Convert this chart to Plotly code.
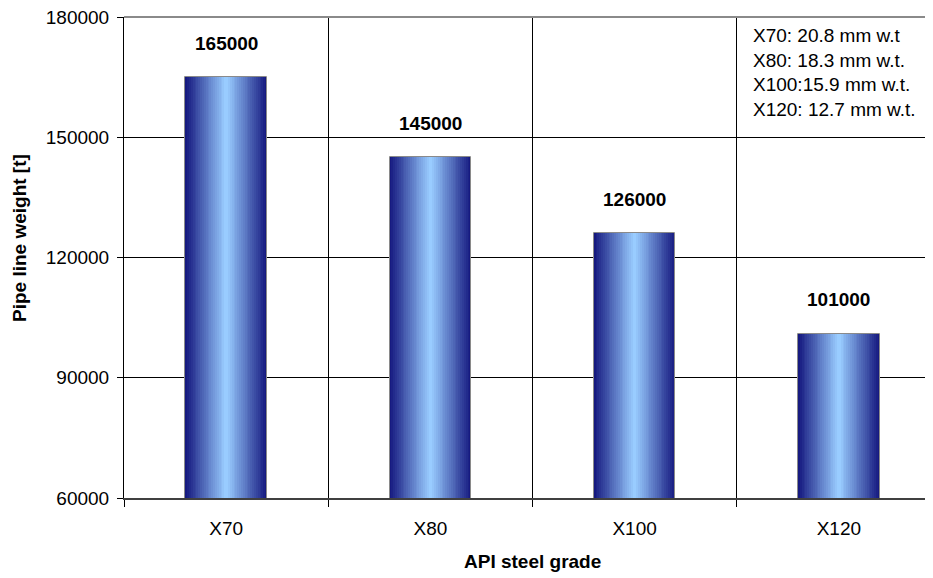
import plotly.graph_objects as go

# ---- data ----
grades = ["X70", "X80", "X100", "X120"]
weights = [165000, 145000, 126000, 101000]
y_ticks = [60000, 90000, 120000, 150000, 180000]
note_lines = ["X70: 20.8 mm w.t", "X80: 18.3 mm w.t.", "X100:15.9 mm w.t.", "X120: 12.7 mm w.t."]
y_title = "Pipe line weight [t]"
x_title = "API steel grade"

FONT = "Arial, Liberation Sans, sans-serif"
# page has an 8px body margin; figure coordinates below are relative to the figure
W, H = 933, 570
L, R, T, B = 116, 0, 9, 80
plot_w = W - L - R
plot_h = H - T - B
PX0 = 124  # page x of plot left
PY0 = 17   # page y of plot top
bar_w = 0.40

edge = (22, 26, 128)
center = (153, 204, 255)
N = 22

fig = go.Figure()
for k in range(N):
    f = k / (N - 1)
    c = tuple(round(edge[i] + (center[i] - edge[i]) * f) for i in range(3))
    fig.add_trace(go.Bar(
        x=grades, y=weights,
        width=bar_w * (1 - k / N),
        marker=dict(color="rgb(%d,%d,%d)" % c, line=dict(width=0)),
        hoverinfo="skip", showlegend=False,
    ))
# outline
fig.add_trace(go.Bar(
    x=grades, y=weights, width=bar_w,
    marker=dict(color="rgba(0,0,0,0)", line=dict(color="#8a8a8a", width=1)),
    hoverinfo="skip", showlegend=False,
))

annotations = []
for g, v in zip(grades, weights):
    annotations.append(dict(
        x=g, y=v, xref="x", yref="y", text="<b>%d</b>" % v, showarrow=False,
        yshift=34, yanchor="middle", xanchor="center",
        font=dict(family=FONT, size=19, color="black"),
    ))

annotations.append(dict(
    x=(751 - PX0) / plot_w, y=1 - 6 / plot_h, xref="paper", yref="paper",
    text="<br>".join(note_lines), align="left", showarrow=False,
    xanchor="left", yanchor="top",
    font=dict(family=FONT, size=19, color="black"),
))
annotations.append(dict(
    x=(20 - PX0) / plot_w, y=1 - (238 - PY0) / plot_h, xref="paper", yref="paper",
    text="<b>%s</b>" % y_title, textangle=-90, showarrow=False,
    xanchor="center", yanchor="middle",
    font=dict(family=FONT, size=19, color="black"),
))
annotations.append(dict(
    x=(532 - PX0) / plot_w, y=1 - (561 - PY0) / plot_h, xref="paper", yref="paper",
    text="<b>%s</b>" % x_title, showarrow=False,
    xanchor="center", yanchor="middle",
    font=dict(family=FONT, size=19, color="black"),
))

fig.update_layout(
    width=W, height=H,
    margin=dict(l=L, r=R, t=T, b=B, pad=0),
    paper_bgcolor="white", plot_bgcolor="white",
    barmode="overlay", bargap=0,
    font=dict(family=FONT, size=19, color="black"),
    annotations=annotations,
    shapes=[dict(type="line", xref="paper", yref="paper", x0=0, x1=1.02, y0=1, y1=1,
                 line=dict(color="#8a8a8a", width=2), layer="above")],
)
fig.update_xaxes(
    type="category", categoryorder="array", categoryarray=grades,
    range=[-0.5, 3.5],
    tickson="boundaries", ticks="outside", ticklen=7, tickcolor="black", tickwidth=1,
    showgrid=True, gridcolor="black", gridwidth=1,
    showline=True, linecolor="#404040", linewidth=2,
    ticklabelstandoff=12,
    tickfont=dict(family=FONT, size=19, color="black"),
)
fig.update_yaxes(
    range=[60000, 180000], tickvals=y_ticks, ticktext=[str(v) for v in y_ticks],
    ticks="outside", ticklen=6, tickcolor="black", tickwidth=1,
    showgrid=True, gridcolor="black", gridwidth=1,
    showline=True, linecolor="black", linewidth=1, zeroline=False,
    ticklabelstandoff=4, ticklabeloverflow="allow",
    tickfont=dict(family=FONT, size=19, color="black"),
)

fig.write_html("out.html")
